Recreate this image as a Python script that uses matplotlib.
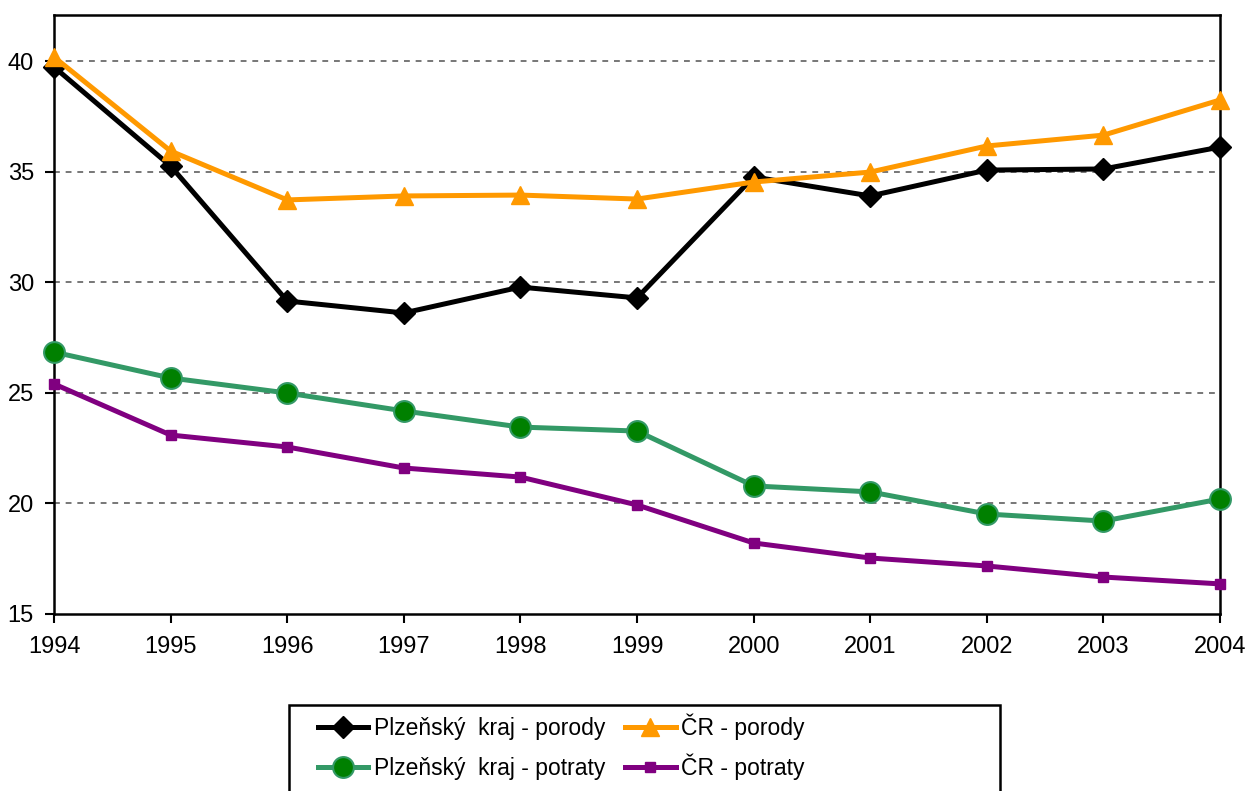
import matplotlib
matplotlib.use("Agg")
import matplotlib.pyplot as plt
from matplotlib.patches import Rectangle

plt.rcParams["font.family"] = ["Liberation Sans Narrow", "Liberation Sans", "DejaVu Sans"]

# data
roky = [1994, 1995, 1996, 1997, 1998, 1999, 2000, 2001, 2002, 2003, 2004]
plzen_porody = [39.73, 35.25, 29.15, 28.61, 29.78, 29.29, 34.76, 33.90, 35.07, 35.12, 36.11]
cr_porody = [40.18, 35.93, 33.72, 33.90, 33.94, 33.76, 34.53, 34.98, 36.16, 36.65, 38.24]
plzen_potraty = [26.84, 25.67, 24.99, 24.18, 23.45, 23.27, 20.79, 20.52, 19.52, 19.20, 20.20]
cr_potraty = [25.40, 23.09, 22.55, 21.60, 21.19, 19.93, 18.21, 17.53, 17.17, 16.67, 16.36]

fig = plt.figure(figsize=(12.48, 7.91), dpi=100)
ax = fig.add_axes([0.0433, 0.2238, 0.9343, 0.7572])

l1, = ax.plot(roky, plzen_porody, color="black", lw=3.6, marker="D", ms=11.5,
              mfc="black", mec="black", label="Plzeňský  kraj - porody", zorder=3, clip_on=False)
l2, = ax.plot(roky, cr_porody, color="#FF9900", lw=3.6, marker="^", ms=13,
              mfc="#FF9900", mec="#FF9900", label="ČR - porody", zorder=4, clip_on=False)
l3, = ax.plot(roky, plzen_potraty, color="#339966", lw=3.6, marker="o", ms=15,
              mfc="#008000", mec="#339966", mew=1.5, label="Plzeňský  kraj - potraty", zorder=3, clip_on=False)
l4, = ax.plot(roky, cr_potraty, color="#800080", lw=3.6, marker="s", ms=7,
              mfc="#800080", mec="#800080", label="ČR - potraty", zorder=3, clip_on=False)

ax.set_xlim(1994, 2004)
ax.set_ylim(15, 42.08)
ax.set_xticks(roky)
ax.set_yticks([15, 20, 25, 30, 35, 40])
ax.tick_params(axis="both", direction="out", length=6.5, width=1.5, labelsize=17)
ax.tick_params(axis="x", pad=9)
ax.tick_params(axis="y", pad=8)

# dashed grid lines
for y in [20, 25, 30, 35, 40]:
    ax.axhline(y, color="#606060", lw=1.2, ls=(0, (3.5, 3.5)), zorder=1)

for s in ax.spines.values():
    s.set_linewidth(1.8)
    s.set_color("black")

# legend: frame drawn separately (it runs off the bottom edge),
# one small legend per entry so the rows line up on the text baseline
fig.add_artist(Rectangle((0.2316, -0.05), 0.5697, 0.1587, transform=fig.transFigure,
                         fill=False, edgecolor="black", lw=1.8))
kw = dict(loc="lower left", fontsize=16.5, frameon=False, handlelength=2.2,
          handletextpad=0.25, borderaxespad=0, borderpad=0)
leg_x = [0.2548, 0.5010]
leg_y = [0.0645, 0.0140]
for h, (i, j) in zip([l1, l2, l3, l4], [(0, 0), (1, 0), (0, 1), (1, 1)]):
    fig.legend(handles=[h], bbox_to_anchor=(leg_x[i], leg_y[j]), **kw)

fig.savefig("out.png", dpi=100)
